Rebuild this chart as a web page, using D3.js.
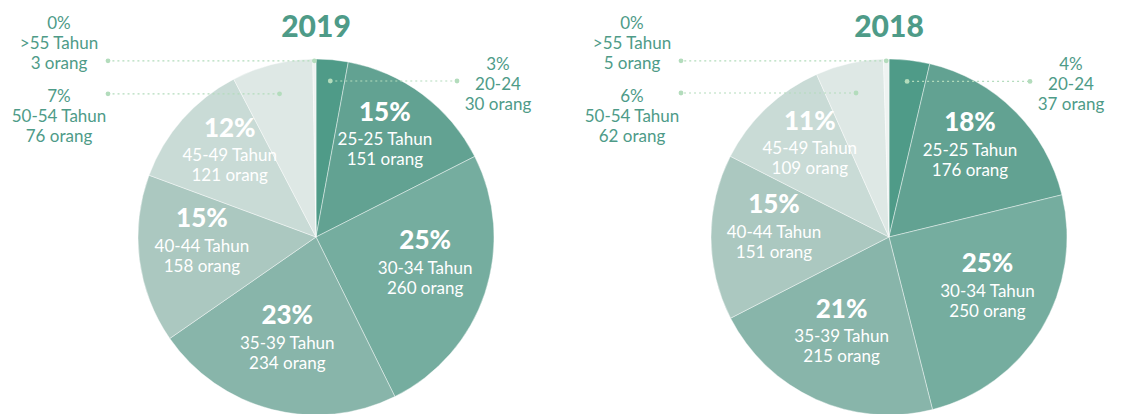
<!DOCTYPE html>
<head>
    <meta charset="utf-8">
    <title>Usia Karyawan 2019 - 2018</title>
    <script type="text/javascript" src="https://d3js.org/d3.v7.min.js"></script>
    <style>
        body { margin: 0; background: #fff; }
        text { font-family: Lato, "Open Sans", sans-serif; }
    </style>
</head>
<body>
    <div id="container"></div>

<script>
    //-----------------------------DATA-----------------------------//
    const years = ["2019", "2018"];
    const ageGroups = ["20-24", "25-29", "30-34", "35-39", "40-44", "45-49", "50-54", ">55"];
    const ageLabels = ["20-24", "25-25 Tahun", "30-34 Tahun", "35-39 Tahun", "40-44 Tahun", "45-49 Tahun", "50-54 Tahun", ">55 Tahun"];
    const counts2019 = [30, 151, 260, 234, 158, 121, 76, 3];
    const counts2018 = [37, 176, 250, 215, 151, 109, 62, 5];

    //----------------------------LAYOUT----------------------------//
    const width = 1125;
    const height = 414;
    const radius = 178;
    const centerY = 237;
    const lineH = 20;
    const teal = "#4e9b88";
    const sliceColors = ["#4f9b88", "#62a292", "#75ad9f", "#88b5aa", "#abc8c0", "#c9dbd6", "#dee8e5", "#eef3f1"];

    // small slices get a dotted leader line instead of an inside label
    // r: where the dot sits (share of radius), side: -1 left / 1 right,
    // row: which of the 3 text lines lines up with the leader
    const callouts = {
        ">55":   { r: 0.99, side: -1, row: 2 },
        "50-54": { r: 0.83, side: -1, row: 0 },
        "20-24": { r: 0.88, side: 1, row: 1 }
    };

    const xPie = d3.scalePoint().domain(years).range([316, 889]);

    const svg = d3.select("#container").append("svg")
        .attr("width", width)
        .attr("height", height);

    const pie = d3.pie().sort(null).value(d => d.count);
    const arc = d3.arc().innerRadius(0).outerRadius(radius);
    const fmtPct = v => Math.round(v * 100) + "%";

    const polar = (a, r) => [r * Math.sin(a), -r * Math.cos(a)];

    years.forEach(function(year, yi) {
        const counts = yi === 0 ? counts2019 : counts2018;
        const total = d3.sum(counts);
        const rows = ageGroups.map((g, i) => ({ group: g, label: ageLabels[i], count: counts[i], idx: i }));
        const arcs = pie(rows);

        const g = svg.append("g")
            .attr("transform", "translate(" + xPie(year) + "," + centerY + ")");

        //----------------------------TITLE-----------------------------//
        g.append("text")
            .attr("x", 0)
            .attr("y", 25 - centerY)
            .attr("text-anchor", "middle")
            .attr("dominant-baseline", "central")
            .style("font-size", "30px")
            .style("font-weight", 900)
            .style("fill", teal)
            .text(year);

        //----------------------------SLICES----------------------------//
        g.selectAll("path.slice")
            .data(arcs)
            .enter()
            .append("path")
            .attr("class", "slice")
            .attr("d", arc)
            .style("fill", d => sliceColors[d.data.idx])
            .style("stroke", "#fff")
            .style("stroke-width", 0.7)
            .style("stroke-opacity", 0.6);

        //------------------------INSIDE LABELS-------------------------//
        const inside = g.selectAll("g.inlabel")
            .data(arcs.filter(d => !callouts[d.data.group]))
            .enter()
            .append("g")
            .attr("class", "inlabel")
            .attr("transform", function(d) {
                const p = polar((d.startAngle + d.endAngle) / 2, 115);
                return "translate(" + p[0] + "," + (p[1] - 6) + ")";
            });

        inside.append("text")
            .attr("y", -28)
            .attr("text-anchor", "middle")
            .attr("dominant-baseline", "central")
            .style("font-size", "26px")
            .style("font-weight", 900)
            .style("fill", "#fff")
            .text(d => fmtPct(d.data.count / total));

        inside.append("text")
            .attr("y", 0)
            .attr("text-anchor", "middle")
            .attr("dominant-baseline", "central")
            .style("font-size", "17px")
            .style("fill", "#fff")
            .text(d => d.data.label);

        inside.append("text")
            .attr("y", lineH)
            .attr("text-anchor", "middle")
            .attr("dominant-baseline", "central")
            .style("font-size", "17px")
            .style("fill", "#fff")
            .text(d => d.data.count + " orang");

        //---------------------------CALLOUTS---------------------------//
        arcs.filter(d => callouts[d.data.group]).forEach(function(d) {
            const c = callouts[d.data.group];
            const p = polar((d.startAngle + d.endAngle) / 2, c.r * radius);
            const endX = c.side < 0 ? -208 : 141;
            const textX = c.side < 0 ? -257 : 182;

            g.append("line")
                .attr("x1", p[0]).attr("y1", p[1])
                .attr("x2", endX).attr("y2", p[1])
                .style("stroke", "#b3dcbc")
                .style("stroke-width", 1.2)
                .style("stroke-dasharray", "2,3");

            [p[0], endX].forEach(function(x) {
                g.append("circle")
                    .attr("cx", x).attr("cy", p[1])
                    .attr("r", 2.4)
                    .style("fill", "#b3dcbc");
            });

            const lines = [fmtPct(d.data.count / total), d.data.label, d.data.count + " orang"];
            lines.forEach(function(t, li) {
                g.append("text")
                    .attr("x", textX)
                    .attr("y", p[1] + 2 + (li - c.row) * lineH)
                    .attr("text-anchor", "middle")
                    .attr("dominant-baseline", "central")
                    .style("font-size", "17px")
                    .style("fill", teal)
                    .text(t);
            });
        });
    });
</script>
</body>
